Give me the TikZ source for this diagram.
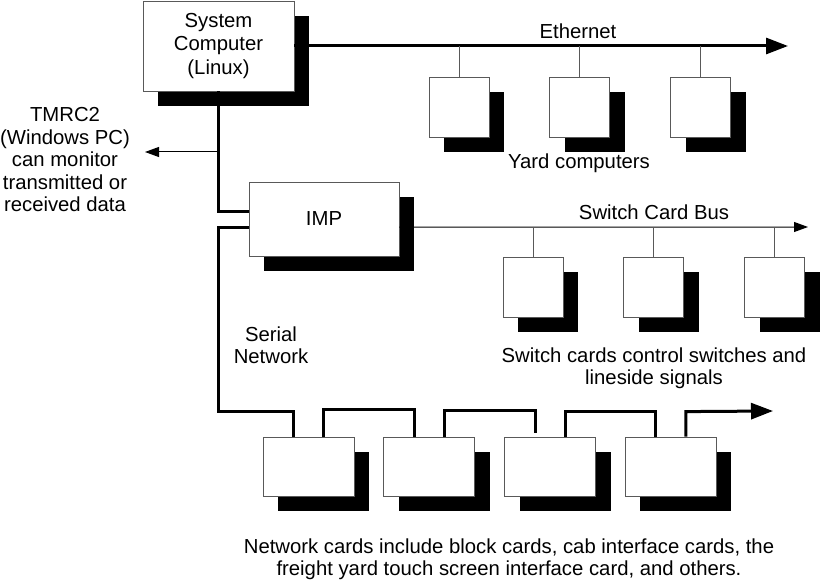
\documentclass[tikz,border=0pt]{standalone}
\usepackage{fontspec}
\setmainfont{Liberation Sans}
\usepackage{tikz}
\usetikzlibrary{arrows.meta,positioning,shadows}
\tikzset{
    %Define standard arrow tip
    >={Triangle[length=14bp,width=10bp]},
    bigtip/.style={-{Triangle[length=22bp,width=16bp]}},
    %Define style for boxes
    unit/.style={
           rectangle,
           draw=black!65, line width=0.8bp,
           fill=white,
           inner sep=0pt,
           align=center,
           font=\fontsize{20.3bp}{23.5bp}\selectfont,
           drop shadow={shadow xshift=15bp, shadow yshift=-15bp,
                        opacity=1, fill=black}
           },
    smallbox/.style={
           unit,
           minimum width=60bp,
           minimum height=60bp
           },
    netbox/.style={
           unit,
           minimum width=91bp,
           minimum height=59bp
           },
    txt/.style={
           align=center,
           inner sep=0pt,
           font=\fontsize{20.3bp}{22.5bp}\selectfont
           },
    % Define line styles
    mainbus/.style={line width=3bp},
    thinbus/.style={line width=1bp},
    stub/.style={draw=black!65, line width=1bp}
}
\begin{document}
\begin{tikzpicture}[x=1bp,y=-1bp]
\useasboundingbox (0,0) rectangle (820,581);
% main units
\node[unit, minimum width=151bp, minimum height=90bp] (sys) at (218.5,46) {System\\Computer\\(Linux)};
\node[unit, minimum width=150bp, minimum height=74bp] (imp) at (324,219) {IMP};
% yard computers
\node[smallbox] (yard1) at (459,107) {};
\node[smallbox, right=60bp of yard1] (yard2) {};
\node[smallbox, right=60bp of yard2] (yard3) {};
% switch cards
\node[smallbox] (sw1) at (533,287) {};
\node[smallbox, right=60bp of sw1] (sw2) {};
\node[smallbox, right=60bp of sw2] (sw3) {};
% network cards
\node[netbox] (net1) at (308.5,466.5) {};
\node[netbox, right=29bp of net1] (net2) {};
\node[netbox, right=29bp of net2] (net3) {};
\node[netbox, right=29bp of net3] (net4) {};
% bus ends
\coordinate (ethend) at (788,46);
\coordinate (swend) at (808,227);
\coordinate (tap) at (218.5,152);
\coordinate (tmrcend) at (145,152);
\coordinate (serial) at (218.5,411);
\coordinate (serend) at (773,411);
% labels
\node[txt] (eth) at (578,31) {Ethernet};
\node[txt] (yardlbl) at (579,163) {Yard computers};
\node[txt] (swbus) at (654,212) {Switch Card Bus};
\node[txt] (swlbl) at (654,368) {Switch cards control switches and\\lineside signals};
\node[txt] (serlbl) at (271,345) {Serial\\Network};
\node[txt] (netlbl) at (509,559) {Network cards include block cards, cab interface cards, the\\freight yard touch screen interface card, and others.};
\node[txt] (tmrc) at (65,160) {TMRC2\\(Windows PC)\\can monitor\\transmitted or\\received data};
% ethernet
\draw[mainbus, bigtip] (sys.east) -- (ethend);
\foreach \i in {1,2,3}
  \draw[stub] (yard\i.north) -- (yard\i.north |- ethend);
% system computer to IMP
\draw[mainbus] (sys.south) |- ([yshift=7bp]imp.west);
\draw[thinbus, ->] (tap) -- (tmrcend);
% switch card bus
\draw[thinbus, ->] ([yshift=-8bp]imp.east) -- (swend);
\foreach \i in {1,2,3}
  \draw[stub] (sw\i.north) -- (sw\i.north |- swend);
% serial network
\draw[mainbus] ([yshift=-8bp]imp.west) -| (serial) -| ([xshift=-15bp]net1.north);
\draw[mainbus] ([xshift=15bp]net1.north) -- ++(0,-27) -| ([xshift=-15bp]net2.north);
\draw[mainbus] ([xshift=15bp]net2.north) -- ++(0,-26) -| ([xshift=-15bp,yshift=4bp]net3.north);
\draw[mainbus] ([xshift=15bp]net3.north) -- ++(0,-25) -| ([xshift=-15bp]net4.north);
\draw[mainbus, bigtip] ([xshift=15bp]net4.north) -- ++(0,-25) -- (serend);
\end{tikzpicture}
\end{document}
